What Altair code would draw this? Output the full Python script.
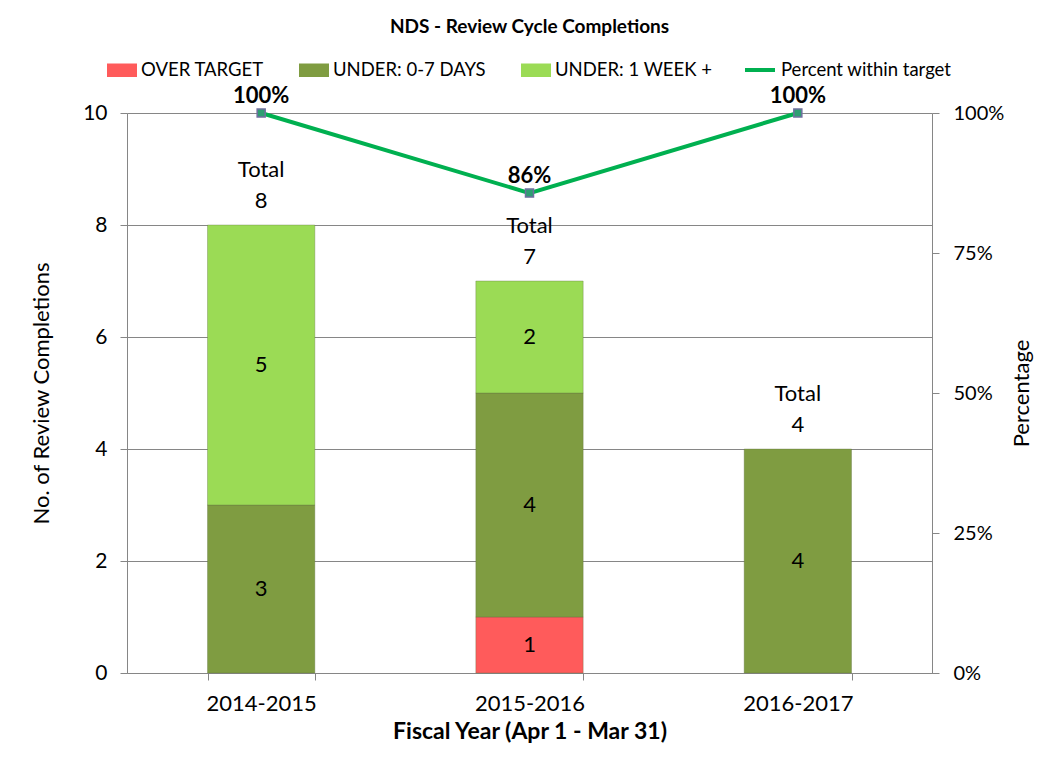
import altair as alt
import pandas as pd

# ---------------- data ----------------
years = ["2014-2015", "2015-2016", "2016-2017"]
over_target = [0, 1, 0]
under_0_7 = [3, 4, 4]
under_1wk = [5, 2, 0]
totals = [8, 7, 4]
pct_within = [1.0, 0.857, 1.0]
pct_labels = ["100%", "86%", "100%"]

series = ["OVER TARGET", "UNDER: 0-7 DAYS", "UNDER: 1 WEEK +"]
series_colors = ["#FF5B5B", "#7F9C41", "#9BDB55"]
line_name = "Percent within target"
left_ticks = [0, 2, 4, 6, 8, 10]
right_ticks = [0, 0.25, 0.5, 0.75, 1]

rows = []
for i, yr in enumerate(years):
    for k, (s, vals) in enumerate(zip(series, [over_target, under_0_7, under_1wk])):
        rows.append({"year": yr, "series": s, "order": k, "value": vals[i]})
bars_df = pd.DataFrame(rows)
tot_df = pd.DataFrame({"year": years, "total": totals})
pct_df = pd.DataFrame({"year": years, "pct": pct_within, "label": pct_labels,
                       "name": [line_name] * len(years)})

FONT = "Lato"
GRID = "#868686"

x_axis = alt.Axis(title="Fiscal Year (Apr 1 - Mar 31)", labelAngle=0, tickBand="extent",
                  labelFont=FONT, labelFontSize=22, labelColor="black", labelPadding=13,
                  titleFont=FONT, titleFontSize=23, titleFontWeight="bold", titleColor="black",
                  titlePadding=6, tickSize=7, tickColor=GRID, domainColor=GRID, grid=False)
x_scale = alt.Scale(paddingInner=0.6, paddingOuter=0.3)


def x_enc():
    return alt.X("year:N", sort=years, scale=x_scale, axis=x_axis)


y_left_scale = alt.Scale(domain=[0, 10], nice=False)
y_right_scale = alt.Scale(domain=[0, 1], nice=False)

left_axis = alt.Axis(title="No. of Review Completions", values=left_ticks,
                     grid=True, gridColor=GRID, gridWidth=1,
                     labelFont=FONT, labelFontSize=21, labelColor="black", labelPadding=13,
                     titleFont=FONT, titleFontSize=22, titleFontWeight="normal",
                     titleColor="black", titlePadding=29,
                     tickSize=7, tickColor=GRID, domainColor=GRID)

right_axis = alt.Axis(orient="right", format=".0%", values=right_ticks,
                      title="Percentage", titleAngle=270, titleBaseline="top",
                      grid=False, labelFont=FONT, labelFontSize=20, labelColor="black",
                      labelPadding=14, titleFont=FONT, titleFontSize=22,
                      titleFontWeight="normal", titleColor="black", titlePadding=8,
                      tickSize=7, tickColor=GRID, domainColor=GRID)

bars = alt.Chart(bars_df).transform_filter("datum.value > 0").mark_bar(
    stroke="#5f6f3f", strokeWidth=1, strokeOpacity=0.35
).encode(
    x=x_enc(),
    y=alt.Y("value:Q", stack="zero", scale=y_left_scale, axis=left_axis,
            title="No. of Review Completions"),
    color=alt.Color("series:N", scale=alt.Scale(domain=series, range=series_colors),
                    legend=alt.Legend(orient="none", legendX=-20, legendY=-58,
                                      direction="horizontal", title=None,
                                      symbolType="M-1,-0.45H1V0.45H-1Z", symbolSize=900,
                                      symbolStrokeWidth=0, labelFont=FONT, labelFontSize=18.5,
                                      labelColor="black", labelOffset=4, columnPadding=35,
                                      labelLimit=300)),
    order=alt.Order("order:Q"),
)

seg_labels = alt.Chart(bars_df).transform_filter("datum.value > 0").transform_stack(
    stack="value", groupby=["year"], sort=[alt.SortField("order")], as_=["v0", "v1"]
).transform_calculate(mid="(datum.v0 + datum.v1) / 2").mark_text(
    font=FONT, fontSize=22, color="black", baseline="middle"
).encode(
    x=x_enc(),
    y=alt.Y("mid:Q", scale=y_left_scale, axis=left_axis, title="No. of Review Completions"),
    text="value:Q",
)

tot_labels = alt.Chart(tot_df).transform_calculate(
    lab="'Total\\n' + datum.total"
).mark_text(
    font=FONT, fontSize=22, color="black", baseline="alphabetic", dy=-48,
    lineBreak="\n", lineHeight=31
).encode(
    x=x_enc(),
    y=alt.Y("total:Q", scale=y_left_scale, axis=left_axis, title="No. of Review Completions"),
    text="lab:N",
)

left = alt.layer(bars, seg_labels, tot_labels)

line = alt.Chart(pct_df).mark_line(strokeWidth=4).encode(
    x=x_enc(),
    y=alt.Y("pct:Q", scale=y_right_scale, axis=right_axis, title="Percentage"),
    stroke=alt.Stroke("name:N", scale=alt.Scale(domain=[line_name], range=["#00B050"]),
                      legend=alt.Legend(orient="none", legendX=616, legendY=-60,
                                        direction="horizontal", title=None,
                                        symbolType="stroke", symbolSize=900,
                                        symbolStrokeWidth=4, labelFont=FONT, labelFontSize=18.5,
                                        labelColor="black", labelOffset=4, labelLimit=300)),
)

pts = alt.Chart(pct_df).mark_square(
    size=64, filled=True, fill="#2E9E72", stroke="#6F6F9F", strokeWidth=1.5, opacity=1
).encode(
    x=x_enc(),
    y=alt.Y("pct:Q", scale=y_right_scale, axis=right_axis, title="Percentage"),
)

pct_text = alt.Chart(pct_df).mark_text(
    font=FONT, fontSize=22, fontWeight="bold", color="black", baseline="alphabetic", dy=-10
).encode(
    x=x_enc(),
    y=alt.Y("pct:Q", scale=y_right_scale, axis=right_axis, title="Percentage"),
    text="label:N",
)

right = alt.layer(line, pts, pct_text)

chart = alt.layer(left, right).resolve_scale(
    y="independent", color="independent", stroke="independent"
).properties(
    width=805, height=560,
    title=alt.TitleParams("NDS - Review Cycle Completions", font=FONT, fontSize=19,
                          fontWeight="bold", color="black", anchor="middle", frame="group",
                          offset=16),
    autosize=alt.AutoSizeParams(type="none"),
    padding={"left": 119, "top": 105, "right": 110, "bottom": 86},
).configure_view(stroke=GRID, strokeWidth=1).configure(background="white")

chart.save("out.html", embed_options={"renderer": "svg", "actions": False})
